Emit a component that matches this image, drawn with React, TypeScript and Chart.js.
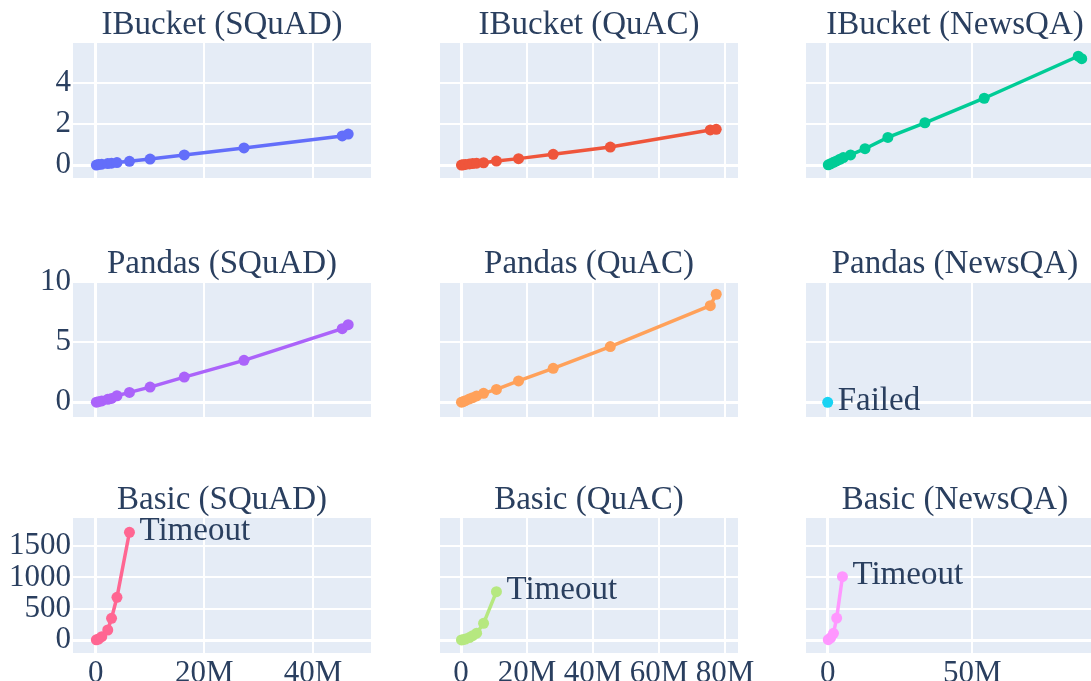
import React, { useEffect, useRef } from "react";
import { Chart, registerables } from "chart.js";
Chart.register(...registerables);

// x values in millions
const squadX = [0.1, 0.5, 1.1, 2.2, 2.9, 3.9, 6.2, 10.0, 16.3, 27.3, 45.4, 46.5];
const quacX = [0.1, 0.6, 1.3, 2.5, 3.5, 4.7, 6.8, 10.7, 17.4, 27.9, 45.2, 75.5, 77.3];
const newsX = [0.2, 1.0, 2.0, 3.1, 4.2, 5.4, 7.9, 12.9, 20.8, 33.6, 54.1, 86.6, 87.8];

const ibucketSquad = [0.0, 0.02, 0.04, 0.07, 0.09, 0.12, 0.18, 0.29, 0.49, 0.83, 1.41, 1.5];
const ibucketQuac = [0.0, 0.01, 0.03, 0.05, 0.07, 0.09, 0.11, 0.19, 0.31, 0.52, 0.87, 1.7, 1.73];
const ibucketNews = [0.01, 0.06, 0.13, 0.2, 0.28, 0.36, 0.49, 0.79, 1.34, 2.05, 3.24, 5.28, 5.16];

const pandasSquad = [0.01, 0.06, 0.12, 0.25, 0.33, 0.55, 0.83, 1.27, 2.1, 3.5, 6.13, 6.47];
const pandasQuac = [0.01, 0.06, 0.14, 0.28, 0.39, 0.53, 0.75, 1.08, 1.78, 2.83, 4.64, 8.05, 9.0];
const pandasNewsX = [0];
const pandasNews = [0];

const basicSquadX = [0.1, 0.5, 1.1, 2.2, 2.9, 3.9, 6.2];
const basicSquad = [3, 15, 53, 160, 346, 682, 1720];
const basicQuacX = [0.1, 0.6, 1.3, 2.5, 3.5, 4.7, 6.8, 10.7];
const basicQuac = [1, 5, 15, 40, 70, 110, 266, 772];
const basicNewsX = [0.2, 1.0, 2.0, 3.1, 5.1];
const basicNews = [5, 35, 107, 351, 1011];

const titles = [
  ["IBucket (SQuAD)", "IBucket (QuAC)", "IBucket (NewsQA)"],
  ["Pandas (SQuAD)", "Pandas (QuAC)", "Pandas (NewsQA)"],
  ["Basic (SQuAD)", "Basic (QuAC)", "Basic (NewsQA)"],
];
const colors = [
  ["#636efa", "#EF553B", "#00cc96"],
  ["#ab63fa", "#FFA15A", "#19d3f3"],
  ["#FF6692", "#B6E880", "#FF97FF"],
];
const xs = [
  [squadX, quacX, newsX],
  [squadX, quacX, pandasNewsX],
  [basicSquadX, basicQuacX, basicNewsX],
];
const ys = [
  [ibucketSquad, ibucketQuac, ibucketNews],
  [pandasSquad, pandasQuac, pandasNews],
  [basicSquad, basicQuac, basicNews],
];
const endLabels = [
  ["", "", ""],
  ["", "", "Failed"],
  ["Timeout", "Timeout", "Timeout"],
];

const xTicks = [[0, 20, 40], [0, 20, 40, 60, 80], [0, 50]];
const yTicks = [[0, 2, 4], [0, 5, 10], [0, 500, 1000, 1500]];
const xRanges = [[-4.2, 50.7], [-6.4, 83.9], [-7.5, 95.5]];
const yRanges = [[-0.63, 5.92], [-1.22, 10.02], [-207, 1948]];

const colLeft = [73, 440, 806];
const rowTop = [43, 282, 518];
const PW = 298;
const PH = 135;
const YW = 73;
const TOP = 43;
const XH = 30;
const RP = 40;
const FONT = "'Liberation Serif', 'Times New Roman', serif";
const TXT = "#2a3f5f";

const bgPlugin = {
  id: "bg",
  beforeDraw(chart: any) {
    const { ctx, chartArea: a } = chart;
    ctx.save();
    ctx.fillStyle = "#E5ECF6";
    ctx.fillRect(a.left, a.top, a.right - a.left, a.bottom - a.top);
    ctx.restore();
  },
};

const textPlugin = {
  id: "texts",
  afterDraw(chart: any) {
    const { ctx, chartArea: a } = chart;
    const t = chart.options.plugins.texts;
    ctx.save();
    ctx.fillStyle = TXT;
    ctx.font = `33px ${FONT}`;
    ctx.textAlign = "center";
    ctx.textBaseline = "alphabetic";
    ctx.fillText(t.title, (a.left + a.right) / 2, a.top - 9);
    if (t.label) {
      const meta = chart.getDatasetMeta(0);
      const pt = meta.data[meta.data.length - 1];
      ctx.textAlign = "left";
      ctx.textBaseline = "middle";
      ctx.font = `33px ${FONT}`;
      ctx.fillText(t.label, pt.x + 10, pt.y - 1);
    }
    ctx.restore();
  },
};

function SubPlot({ r, c }: { r: number; c: number }) {
  const ref = useRef<HTMLCanvasElement>(null);
  const width = YW + PW + RP;
  const height = TOP + PH + XH;
  useEffect(() => {
    const canvas = ref.current!;
    const data = xs[r][c].map((x, i) => ({ x, y: ys[r][c][i] }));
    const gridWidth = (ctx: any) => (ctx.tick && ctx.tick.value === 0 ? 3 : 2);
    const chart = new Chart(canvas, {
      type: "line",
      data: {
        datasets: [
          {
            data,
            borderColor: colors[r][c],
            backgroundColor: colors[r][c],
            pointBackgroundColor: colors[r][c],
            pointBorderWidth: 0,
            pointRadius: 5.5,
            borderWidth: 3.5,
            tension: 0,
            fill: false,
          },
        ],
      },
      options: {
        animation: false,
        responsive: false,
        maintainAspectRatio: false,
        devicePixelRatio: 1,
        events: [],
        layout: { padding: { top: TOP, left: 0, right: RP, bottom: 0 } },
        plugins: {
          legend: { display: false },
          tooltip: { enabled: false },
          title: { display: false },
          texts: { title: titles[r][c], label: endLabels[r][c] },
        } as any,
        scales: {
          x: {
            type: "linear",
            min: xRanges[c][0],
            max: xRanges[c][1],
            afterBuildTicks: (s: any) => {
              s.ticks = xTicks[c].map((v) => ({ value: v }));
            },
            afterFit: (s: any) => {
              s.height = XH;
              s.paddingLeft = 0;
              s.paddingRight = 0;
            },
            grid: { color: "#ffffff", lineWidth: gridWidth, drawTicks: false },
            border: { display: false },
            ticks: {
              display: r === 2,
              color: TXT,
              font: { family: FONT, size: 31 },
              padding: 2,
              autoSkip: false,
              maxRotation: 0,
              callback: (v: any) => (v === 0 ? "0" : `${v}M`),
            },
          },
          y: {
            type: "linear",
            min: yRanges[r][0],
            max: yRanges[r][1],
            afterBuildTicks: (s: any) => {
              s.ticks = yTicks[r].map((v) => ({ value: v }));
            },
            afterFit: (s: any) => {
              s.width = YW;
              s.paddingTop = 0;
              s.paddingBottom = 0;
            },
            grid: { color: "#ffffff", lineWidth: gridWidth, drawTicks: false },
            border: { display: false },
            ticks: {
              display: c === 0,
              color: TXT,
              font: { family: FONT, size: 31 },
              padding: 2,
              autoSkip: false,
              callback: (v: any) => `${v}`,
            },
          },
        },
      },
      plugins: [bgPlugin, textPlugin],
    });
    return () => chart.destroy();
  }, [r, c]);
  return (
    <canvas
      ref={ref}
      width={width}
      height={height}
      style={{
        position: "absolute",
        left: colLeft[c] - YW,
        top: rowTop[r] - TOP,
        width,
        height,
      }}
    />
  );
}

export default function App() {
  const cells: React.ReactElement[] = [];
  for (let r = 0; r < 3; r++) {
    for (let c = 0; c < 3; c++) {
      cells.push(<SubPlot key={`${r}-${c}`} r={r} c={c} />);
    }
  }
  return (
    <div
      style={{
        position: "fixed",
        left: 0,
        top: 0,
        width: 1091,
        height: 681,
        overflow: "hidden",
        background: "#ffffff",
      }}
    >
      {cells}
    </div>
  );
}
